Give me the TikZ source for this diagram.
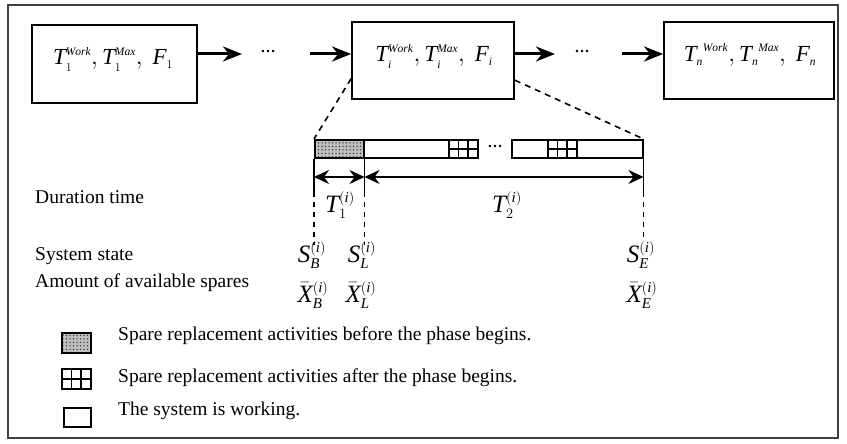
\documentclass[tikz,border=0pt]{standalone}
\usepackage{fontspec}
\setmainfont{Liberation Serif}
\usetikzlibrary{arrows.meta,patterns.meta,calc}
\DeclareMathSizes{23}{23}{11.5}{9}
\DeclareMathSizes{25}{25}{15}{11}

\tikzset{
  txt/.style={font=\fontsize{19.5}{23}\selectfont, inner sep=0pt, anchor=base west},
  boxmth/.style={font=\fontsize{23}{27}\selectfont, inner sep=0pt, anchor=base},
  mth/.style={font=\fontsize{25}{29}\selectfont, inner sep=0pt, anchor=base},
  ell/.style={font=\fontsize{15}{17}\selectfont\bfseries, inner sep=0pt, anchor=base},
  frame/.style={draw=black!75, line width=1.5pt},
  phase/.style={draw, line width=1.8pt, inner sep=0pt},
  flow/.style={line width=3pt, -{Stealth[length=19pt,width=15pt,inset=6pt]}},
  span/.style={line width=2pt,
    {Stealth[length=15pt,width=14pt,inset=5pt]}-{Stealth[length=15pt,width=14pt,inset=5pt]}},
  zoomline/.style={line width=1.6pt, dash pattern=on 6pt off 5pt},
  tick/.style={line width=1.6pt},
  tickdash/.style={line width=1.6pt, dash pattern=on 5pt off 5pt},
  seg/.style={draw, line width=1.5pt, fill=white, inner sep=0pt, anchor=north west},
  predots/.style={preaction={fill=black!25},
    pattern={Dots[distance=3.5pt, radius=0.75pt]}, pattern color=black!80},
  gridfill/.style={line width=1.8pt, path picture={
    \draw[line width=1.6pt]
      ($(path picture bounding box.north west)!1/3!(path picture bounding box.north east)$) --
      ($(path picture bounding box.south west)!1/3!(path picture bounding box.south east)$)
      ($(path picture bounding box.north west)!2/3!(path picture bounding box.north east)$) --
      ($(path picture bounding box.south west)!2/3!(path picture bounding box.south east)$)
      (path picture bounding box.west) -- (path picture bounding box.east);
  }},
}

\begin{document}
\begin{tikzpicture}[x=1pt,y=-1pt]
\useasboundingbox (0,0) rectangle (847,444);
\draw[frame] (8,5) rectangle (838,438);

% phase boxes
\node[phase, minimum width=165pt, minimum height=78pt] (b1) at (114.5,64) {};
\node[phase, minimum width=162pt, minimum height=77pt] (bi) at (433,60.5) {};
\node[phase, minimum width=170pt, minimum height=77pt] (bn) at (749,60.5) {};

\node[boxmth] (t1) at (113,65)
  {$\mathit{T}_1^{\mathit{Work}},\mathit{T}_1^{\mathit{Max}},\ \mathit{F}_1$};
\node[boxmth] (ti) at (434,62)
  {$\mathit{T}_{\mathit{i}}^{\mathit{Work}},\mathit{T}_{\mathit{i}}^{\mathit{Max}},\ \mathit{F}_{\mathit{i}}$};
\node[boxmth] (tn) at (750,62)
  {${\mathit{T}_{\mathit{n}}}^{\mathit{Work}},{\mathit{T}_{\mathit{n}}}^{\mathit{Max}},\ \mathit{F}_{\mathit{n}}$};

% sequence of phases
\coordinate (p1) at (242,54);
\coordinate (p2) at (310,54);
\coordinate (p3) at (555,54);
\coordinate (p4) at (622,54);
\draw[flow] (b1.east |- p1) -- (p1);
\node[ell] (d1) at (268,53) {…};
\draw[flow] (p2) -- (p2 -| bi.west);
\draw[flow] (bi.east |- p3) -- (p3);
\node[ell] (d2) at (582,53) {…};
\draw[flow] (p4) -- (p4 -| bn.west);

% time bar of phase i
\node[seg, predots, minimum width=49pt, minimum height=18pt] (s0) at (314,139) {};
\node[seg, minimum width=85pt, minimum height=18pt] (s1) at (363,139) {};
\node[seg, gridfill, minimum width=29pt, minimum height=18pt] (g1) at (448,139) {};
\node[ell] (d3) at (495,147) {…};
\node[seg, minimum width=131pt, minimum height=18pt] (s2) at (511,139) {};
\node[seg, gridfill, minimum width=29pt, minimum height=18pt] (g2) at (547,139) {};

% zoom lines from phase i to its bar
\draw[zoomline] ($(bi.south west)!0.27!(bi.north west)$) -- (s0.north west);
\draw[zoomline] ($(bi.south east)!0.25!(bi.north east)$) -- (s2.north east);

% time marks
\coordinate (m0) at ($(s0.south west)+(0,33)$);
\coordinate (m1) at ($(s0.south east)+(0,33)$);
\coordinate (m2) at ($(s2.south east)+(0,33)$);
\coordinate (e0) at ($(m0)+(0,53)$);
\coordinate (e1) at ($(m1)+(0,53)$);
\coordinate (e2) at ($(m2)+(0,45)$);
\draw[tick] (s0.south west) -- (m0);
\draw[tick] (s0.south east) -- (m1);
\draw[tick] (s2.south east) -- (m2);
\draw[tickdash] (m0) -- (e0);
\draw[tickdash] (m1) -- (e1);
\draw[tickdash] (m2) -- (e2);

\coordinate (hy) at (0,177);
\draw[span] (s0.south west |- hy) -- (s0.south east |- hy);
\draw[span] (s0.south east |- hy) -- (s2.south east |- hy);

\node[mth] (T1) at (340,212) {$\mathit{T}_1^{(\mathit{i})}$};
\node[mth] (T2) at (507,212) {$\mathit{T}_2^{(\mathit{i})}$};

% row captions
\node[txt] (c1) at (35,203) {Duration time};
\node[txt] (c2) at (35,260) {System state};
\node[txt] (c3) at (35,287) {Amount of available spares};

\node[mth] (sb) at (312,262) {$\mathit{S}_{\mathit{B}}^{(\mathit{i})}$};
\node[mth] (sl) at (362,262) {$\mathit{S}_{\mathit{L}}^{(\mathit{i})}$};
\node[mth] (se) at (641,262) {$\mathit{S}_{\mathit{E}}^{(\mathit{i})}$};
\node[mth] (xb) at (313,302) {$\bar{\mathit{X}}_{\mathit{B}}^{(\mathit{i})}$};
\node[mth] (xl) at (361,302) {$\bar{\mathit{X}}_{\mathit{L}}^{(\mathit{i})}$};
\node[mth] (xe) at (642,302) {$\bar{\mathit{X}}_{\mathit{E}}^{(\mathit{i})}$};

% legend
\node[seg, predots, minimum width=29pt, minimum height=20pt] (k1) at (61,332) {};
\node[seg, gridfill, minimum width=29pt, minimum height=20pt] (k2) at (61,368) {};
\node[seg, line width=1.8pt, minimum width=27pt, minimum height=19pt] (k3) at (63,407) {};
\node[txt] (l1) at (118,340) {Spare replacement activities before the phase begins.};
\node[txt] (l2) at (118,382) {Spare replacement activities after the phase begins.};
\node[txt] (l3) at (118,415) {The system is working.};
\end{tikzpicture}
\end{document}
